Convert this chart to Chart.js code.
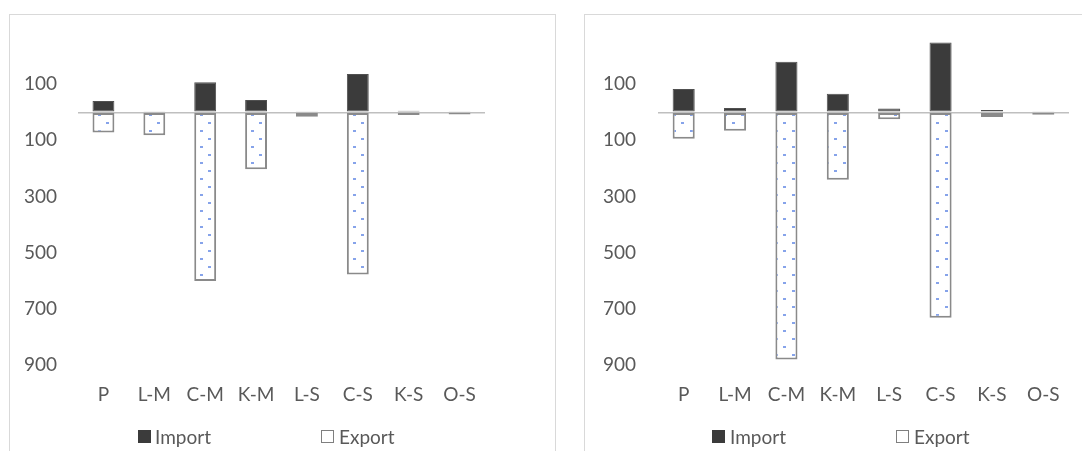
<!DOCTYPE html>
<html><head><meta charset="utf-8">
<script src="https://cdn.jsdelivr.net/npm/chart.js@4"></script>
<style>
html,body{margin:0;padding:0;background:#fff;overflow:hidden;width:1082px;height:451px;}
.panel{position:absolute;border:1px solid #d9d9d9;box-sizing:border-box;}
canvas{position:absolute;}
.leg{position:absolute;font-family:Lato,sans-serif;font-size:19px;color:#595959;line-height:20px;white-space:nowrap;}
.box{position:absolute;width:13px;height:13px;box-sizing:border-box;}
.bi{background:#3b3b3b;}
.be{background:#fff;border:1px solid #7f7f7f;}
</style></head><body>
<div class="panel" style="left:9px;top:14px;width:547px;height:460px;"></div>
<div class="panel" style="left:584px;top:14px;width:600px;height:460px;"></div>
<canvas id="left" width="544" height="436" style="left:10px;top:15px;"></canvas>
<canvas id="right" width="497" height="436" style="left:585px;top:15px;"></canvas>

<div class="box bi" style="left:138px;top:430px;"></div><span class="leg" style="left:155px;top:427px;">Import</span>
<div class="box be" style="left:321px;top:430px;"></div><span class="leg" style="left:339px;top:427px;">Export</span>
<div class="box bi" style="left:712px;top:430px;"></div><span class="leg" style="left:730px;top:427px;">Import</span>
<div class="box be" style="left:896px;top:430px;"></div><span class="leg" style="left:914px;top:427px;">Export</span>

<script>
const categories = ['P', 'L-M', 'C-M', 'K-M', 'L-S', 'C-S', 'K-S', 'O-S'];
const seriesNames = ['Import', 'Export'];
const importLeft = [40, 2, 107, 44, 4, 136, 5, 4];
const exportLeft = [-72, -82, -601, -203, -16, -578, -10, -8];
const importRight = [83, 15, 180, 66, 13, 248, 8, 4];
const exportRight = [-94, -66, -880, -240, -25, -732, -17, -9];
const yTicks = [-900, -700, -500, -300, -100, 0, 100];

Chart.defaults.font.family = 'Lato, sans-serif';
Chart.defaults.font.size = 19;
Chart.defaults.color = '#595959';

function makePattern() {
  const c = document.createElement('canvas');
  c.width = 17; c.height = 16;
  const g = c.getContext('2d');
  g.fillStyle = '#ffffff'; g.fillRect(0, 0, 17, 16);
  g.fillStyle = '#86a3ea';
  g.fillRect(3, 3, 3, 2);
  g.fillRect(11, 11, 3, 2);
  return g.createPattern(c, 'repeat');
}
const pattern = makePattern();

function build(id, imp, exp, yWidth, padRight, tickPad) {
  new Chart(document.getElementById(id), {
    type: 'bar',
    data: {
      labels: categories,
      datasets: [
        { label: seriesNames[0], data: imp, backgroundColor: '#3b3b3b', borderColor: '#505050', borderWidth: 1, borderSkipped: false },
        { label: seriesNames[1], data: exp, backgroundColor: pattern, borderColor: '#8a8a8a', borderWidth: 2, borderSkipped: false }
      ]
    },
    options: {
      responsive: false, animation: false, events: [],
      layout: { padding: { top: 13, right: padRight, left: 0, bottom: 26 } },
      plugins: { legend: { display: false }, tooltip: { enabled: false } },
      datasets: { bar: { categoryPercentage: 1, barPercentage: 0.43 } },
      scales: {
        x: {
          stacked: true,
          grid: { display: false },
          border: { display: false },
          ticks: { padding: 10, maxRotation: 0, autoSkip: false },
          afterFit: s => { s.height = 60; s.paddingLeft = 0; s.paddingRight = 0; }
        },
        y: {
          stacked: true, min: -900, max: 300,
          border: { display: false },
          grid: { color: c => (c.tick && c.tick.value === 0) ? '#bfbfbf' : 'rgba(0,0,0,0)', lineWidth: 1.5, drawTicks: false },
          afterBuildTicks: s => { s.ticks = yTicks.map(v => ({ value: v })); },
          ticks: { padding: tickPad, callback: v => v === 0 ? '' : String(Math.abs(v)) },
          afterFit: s => { s.width = yWidth; s.paddingTop = 0; s.paddingBottom = 0; }
        }
      }
    }
  });
}

build('left', importLeft, exportLeft, 68, 69, 21);
build('right', importRight, exportRight, 73, 13, 22);
</script>
</body></html>
